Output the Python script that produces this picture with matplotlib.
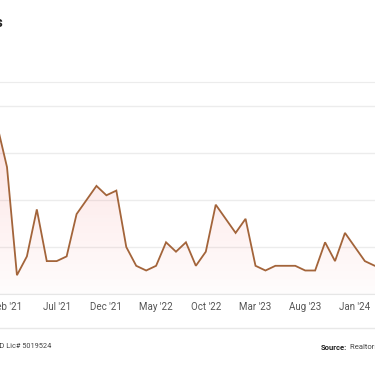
import numpy as np
import matplotlib
matplotlib.use("Agg")
import matplotlib.pyplot as plt
from matplotlib.patches import Polygon

plt.rcParams['font.family'] = ['Roboto', 'DejaVu Sans']

# Monthly values, Jan '21 .. Apr '24 (month index: Feb '21 = 0)
months = ["Jan '21", "Feb '21", "Mar '21", "Apr '21", "May '21", "Jun '21", "Jul '21", "Aug '21",
          "Sep '21", "Oct '21", "Nov '21", "Dec '21", "Jan '22", "Feb '22", "Mar '22", "Apr '22",
          "May '22", "Jun '22", "Jul '22", "Aug '22", "Sep '22", "Oct '22", "Nov '22", "Dec '22",
          "Jan '23", "Feb '23", "Mar '23", "Apr '23", "May '23", "Jun '23", "Jul '23", "Aug '23",
          "Sep '23", "Oct '23", "Nov '23", "Dec '23", "Jan '24", "Feb '24", "Mar '24", "Apr '24"]
values = [72, 54, 8, 16, 36, 14, 14, 16, 34, 40, 46, 42, 44, 20, 12, 10, 12, 22, 18, 22,
          12, 18, 38, 32, 26, 32, 12, 10, 12, 12, 12, 10, 10, 22, 14, 26, 20, 14, 12, 12]
tick_labels = ["Feb '21", "Jul '21", "Dec '21", "May '22", "Oct '22", "Mar '23", "Aug '23", "Jan '24"]
y_ticks = [0, 20, 40, 60, 80]

W, H = 375, 366
fig = plt.figure(figsize=(W / 100, H / 100), dpi=100)
fig.patch.set_facecolor('white')

ax_bottom_px, ax_top_px = 294, 82
ax = fig.add_axes([0, (H - ax_bottom_px) / H, 1, (ax_bottom_px - ax_top_px) / H])

x = np.arange(len(values)) - 1
y = np.array(values, dtype=float)

px_per_month = 9.94
x0_px = 7
ax.set_xlim(-x0_px / px_per_month, (W - x0_px) / px_per_month)
ymax = (ax_bottom_px - ax_top_px) * 20 / 47
ax.set_ylim(0, ymax)

# gradient fill under line
verts = [(x[0], 0)] + list(zip(x, y)) + [(x[-1], 0)]
poly = Polygon(verts, closed=True, facecolor='none', edgecolor='none')
ax.add_patch(poly)
grad = np.zeros((100, 1, 4))
grad[..., 0] = 0.96
grad[..., 1] = 0.42
grad[..., 2] = 0.42
grad[..., 3] = np.linspace(0.02, 0.24, 100)[:, None]
im = ax.imshow(grad, aspect='auto', extent=[x[0], x[-1], 0, ymax], origin='lower', zorder=1)
im.set_clip_path(poly)

ax.plot(x, y, color='#a3643a', lw=1.3, zorder=3, solid_joinstyle='miter')

ax.set_yticks(y_ticks)
ax.yaxis.grid(True, color='#ececec', lw=1)
ax.set_axisbelow(True)
ax.tick_params(axis='y', left=False, labelleft=False)
ax.set_xticks([0, 5, 10, 15, 20, 25, 30, 35])
ax.set_xticklabels(tick_labels, fontsize=7, color='#555555')
ax.tick_params(axis='x', length=0, pad=6)
for s in ['left', 'right']:
    ax.spines[s].set_visible(False)
ax.spines['bottom'].set_color('#e6e6e6')
ax.spines['top'].set_color('#ececec')
ax.set_facecolor('none')

# separator line above footer
fig.add_artist(plt.Line2D([0, 1], [(H - 328) / H] * 2, color='#e8e8e8', lw=1))

# cropped title
fig.text(3 / W, (H - 23) / H, "Trends", ha='right', va='center', fontsize=10,
         fontweight='bold', color='#222222')

# footer
fig.text(51 / W, (H - 347) / H, "MD Lic# 5019524", ha='right', va='center',
         fontsize=5.3, color='#444444')
fig.text(347 / W, (H - 347) / H, "Source:", ha='right', va='center', fontsize=5.5,
         fontweight='bold', color='#222222')
fig.text(350 / W, (H - 347) / H, "Realtors Property Resource", ha='left', va='center',
         fontsize=5.5, color='#444444')

fig.savefig('out.png', dpi=100, facecolor='white')
